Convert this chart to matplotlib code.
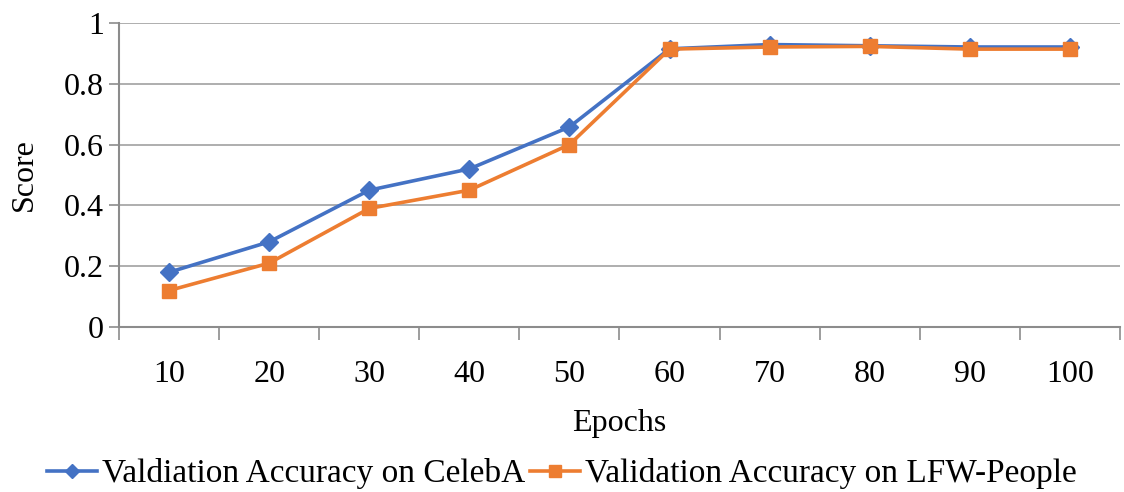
import matplotlib.pyplot as plt
import numpy as np

epochs = ['10', '20', '30', '40', '50', '60', '70', '80', '90', '100']
celeba = [0.18, 0.28, 0.45, 0.52, 0.658, 0.915, 0.929, 0.925, 0.921, 0.921]
lfw = [0.12, 0.21, 0.39, 0.45, 0.60, 0.914, 0.921, 0.923, 0.914, 0.914]
yticks = [0, 0.2, 0.4, 0.6, 0.8, 1]
ytick_labels = ['0', '0.2', '0.4', '0.6', '0.8', '1']

plt.rcParams['font.family'] = ['Liberation Serif', 'DejaVu Serif']

fig = plt.figure(figsize=(11.24, 4.92), dpi=100)
ax = fig.add_axes([0.1059, 0.3354, 0.8905, 0.6179])

x = np.arange(len(epochs))
ax.plot(x, celeba, color='#4472C4', lw=2.6, marker='D', ms=9,
        label='Valdiation Accuracy on CelebA', zorder=3)
ax.plot(x, lfw, color='#ED7D31', lw=2.6, marker='s', ms=10.5,
        label='Validation Accuracy on LFW-People', zorder=4)

ax.set_xlim(-0.5, len(epochs) - 0.5)
ax.set_ylim(0, 1)
ax.set_yticks(yticks)
ax.set_yticklabels(ytick_labels)
ax.set_xticks(x)
ax.set_xticklabels(epochs)
ax.set_xticks(np.arange(-0.5, len(epochs), 1), minor=True)
ax.tick_params(axis='x', which='major', length=0, pad=24, labelsize=23)
ax.tick_params(axis='x', which='minor', length=9, color='#8c8c8c', width=1.2)
ax.tick_params(axis='y', length=7, color='#8c8c8c', width=1.2, labelsize=23, pad=4)

ax.grid(axis='y', color='#a8a8a8', lw=1.3)
ax.set_axisbelow(True)
for side in ['top', 'right']:
    ax.spines[side].set_visible(False)
for side in ['left', 'bottom']:
    ax.spines[side].set_color('#8c8c8c')
    ax.spines[side].set_linewidth(1.5)

ax.set_xlabel('Epochs', fontsize=23, labelpad=14)
ax.set_ylabel('Score', fontsize=23, labelpad=18)

fig.legend(loc='center', bbox_to_anchor=(0.5, 0.037), ncol=2, frameon=False,
           fontsize=24, handlelength=1.5, columnspacing=0.15, handletextpad=0.15,
           markerscale=0.8, borderpad=0)

fig.savefig('out.png', dpi=100)
